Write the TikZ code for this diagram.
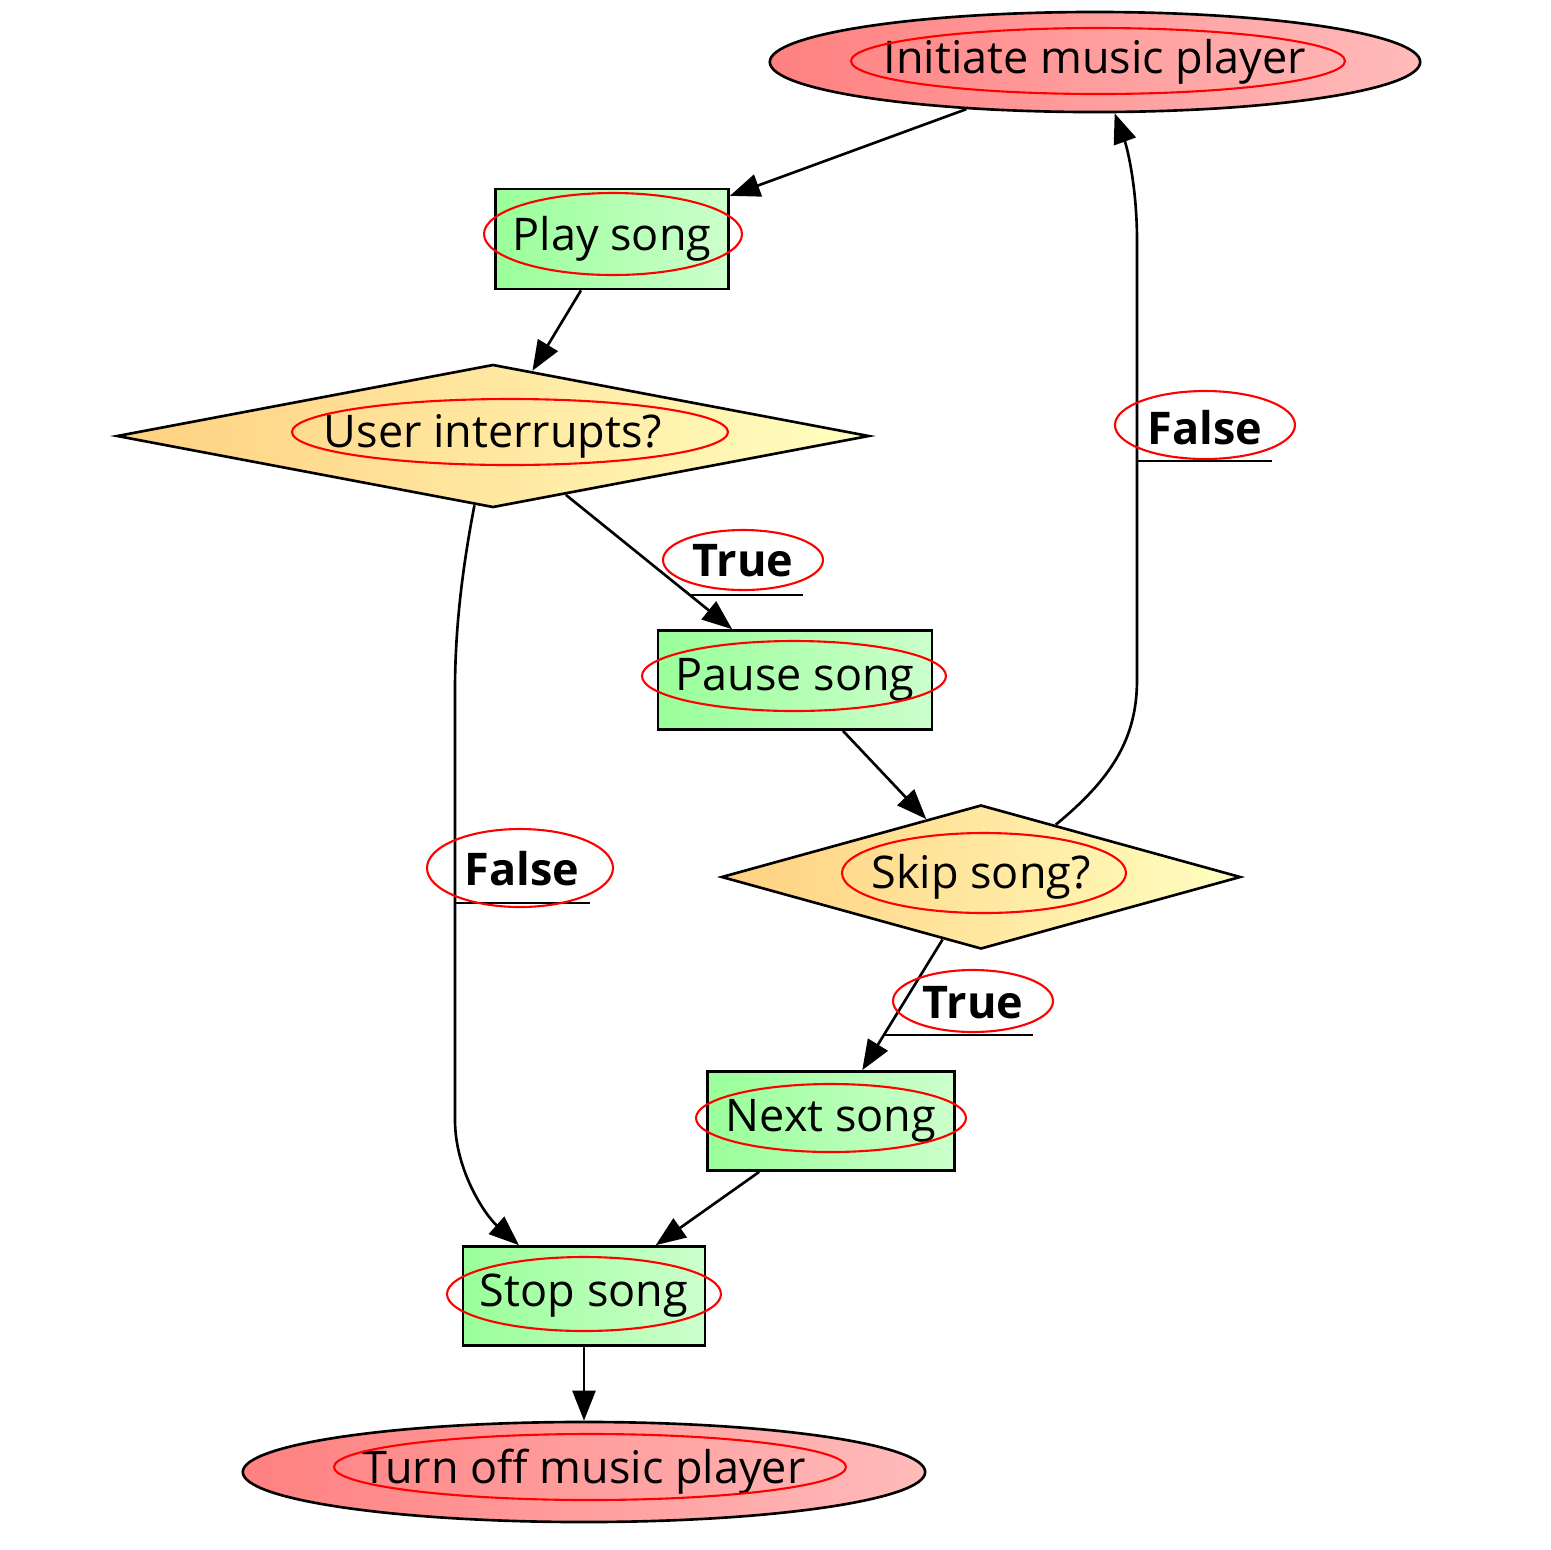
\documentclass[tikz,border=0pt]{standalone}
\usepackage{fontspec}
\setmainfont{Open Sans}
\usetikzlibrary{shapes.geometric,arrows.meta}
\definecolor{endl}{HTML}{FF8080}
\definecolor{endr}{HTML}{FFBBBB}
\definecolor{boxl}{HTML}{99FF99}
\definecolor{boxr}{HTML}{CCFFCC}
\definecolor{decl}{HTML}{FFD080}
\definecolor{decr}{HTML}{FFFFC0}
\tikzset{
  endnode/.style={ellipse, draw, line width=0.75pt, left color=endl, right color=endr, minimum width=6.5cm, minimum height=1cm, inner sep=0pt},
  box/.style={rectangle, draw, line width=0.75pt, left color=boxl, right color=boxr, inner sep=0pt},
  decision/.style={diamond, draw, line width=0.75pt, left color=decl, right color=decr, aspect=5.26, inner sep=0pt},
  lbl/.style={font=\fontsize{12.8}{15}\selectfont\bfseries, inner sep=0pt},
  ring/.style={draw=red, line width=0.6pt},
  arr/.style={line width=0.75pt, -{Triangle[length=3mm,width=2.3mm]}}
}
\begin{document}
\begin{tikzpicture}[x=0.01cm, y=-0.01cm, font=\fontsize{12.8}{15}\selectfont]
\useasboundingbox (0,0) rectangle (1550,1550);
% nodes
\node[endnode] (init) at (1095,62) {Initiate music player};
\node[box, minimum width=2.33cm, minimum height=1cm] (play) at (612,239) {Play song};
\node[decision, minimum width=7.52cm, minimum height=1.43cm] (user) at (493,436) {User interrupts?};
\node[box, minimum width=2.74cm, minimum height=0.99cm] (pause) at (795,680) {Pause song};
\node[decision, minimum width=5.19cm, minimum height=1.44cm] (skip) at (981,877) {Skip song?};
\node[box, minimum width=2.47cm, minimum height=0.99cm] (next) at (831,1121) {Next song};
\node[box, minimum width=2.42cm, minimum height=0.99cm] (stop) at (584,1296) {Stop song};
\node[endnode, minimum width=6.82cm] (off) at (584,1472) {Turn off music player};
% edges
\draw[arr] (init) -- (play);
\draw[arr] (play) -- (user);
\draw[arr] (user) -- (pause);
\draw[arr] (user.255) .. controls (462,570) and (455,630) .. (455,690) -- (455,1120) .. controls (455,1170) and (485,1215) .. (stop.142);
\draw[arr] (pause) -- (skip);
\draw[arr] (skip) -- (next);
\draw[arr] (skip.35) .. controls (1110,780) and (1137,740) .. (1137,680) -- (1137,240) .. controls (1137,190) and (1128,150) .. (init.291);
\draw[arr] (next) -- (stop);
\draw[arr] (stop) -- (off);
% edge labels
\node[lbl] (t1) at (743,561) {True};
\draw[line width=0.75pt] (690,595) -- (803,595);
\node[lbl] (f1) at (522,869) {False};
\draw[line width=0.75pt] (455,903) -- (590,903);
\node[lbl] (t2) at (973,1003) {True};
\draw[line width=0.75pt] (885,1035) -- (1033,1035);
\node[lbl] (f2) at (1205,428) {False};
\draw[line width=0.75pt] (1137,461) -- (1272,461);
% rings
\draw[ring] (1098,61) ellipse [x radius=247, y radius=33];
\draw[ring] (613,234) ellipse [x radius=129, y radius=41];
\draw[ring] (510,432) ellipse [x radius=218, y radius=33];
\draw[ring] (794,676) ellipse [x radius=152, y radius=35];
\draw[ring] (984,873) ellipse [x radius=142, y radius=40];
\draw[ring] (831,1118) ellipse [x radius=135, y radius=34];
\draw[ring] (584,1294) ellipse [x radius=137, y radius=37];
\draw[ring] (590,1467) ellipse [x radius=256, y radius=33];
\draw[ring] (743,560) ellipse [x radius=80, y radius=30];
\draw[ring] (520,868) ellipse [x radius=93, y radius=39];
\draw[ring] (973,1001) ellipse [x radius=80, y radius=31];
\draw[ring] (1205,425) ellipse [x radius=90, y radius=34];
\end{tikzpicture}
\end{document}
